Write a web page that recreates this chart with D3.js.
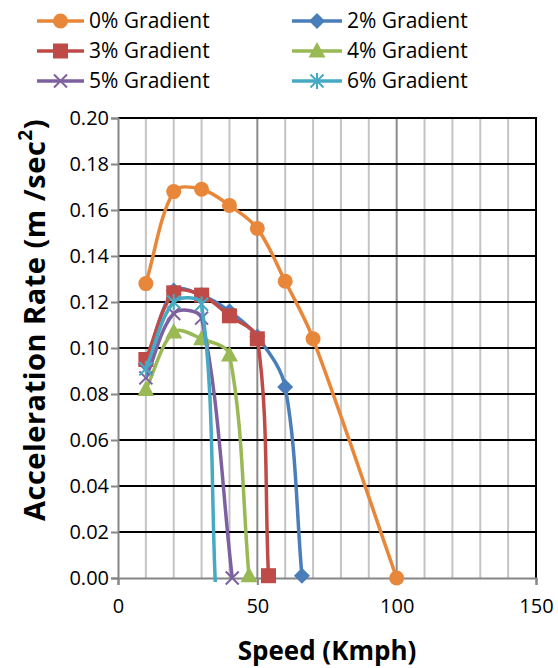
<!DOCTYPE html>
<html>
<head>
<meta charset="utf-8">
<script src="https://cdn.jsdelivr.net/npm/d3@7"></script>
<style>
  body { margin: 0; background: #fff; }
  svg { display: block; }
  text { font-family: "Open Sans", "DejaVu Sans", sans-serif; fill: #000; }
</style>
</head>
<body>
<svg id="chart" width="558" height="668"></svg>
<script>
// Acceleration rate vs. speed for each road gradient
const seriesNames = ["0% Gradient", "2% Gradient", "3% Gradient", "4% Gradient", "5% Gradient", "6% Gradient"];
const seriesColors = ["#E8873A", "#4A7EBB", "#BE4B48", "#98B954", "#7D60A0", "#46AAC5"];
const seriesMarkers = ["circle", "diamond", "square", "triangle", "cross", "asterisk"];

const speed0 = [10, 20, 30, 40, 50, 60, 70, 100];
const accel0 = [0.128, 0.168, 0.169, 0.162, 0.152, 0.129, 0.104, 0.000];
const speed2 = [10, 20, 30, 40, 50, 60, 66];
const accel2 = [0.093, 0.125, 0.123, 0.116, 0.105, 0.083, 0.001];
const speed3 = [10, 20, 30, 40, 50, 54];
const accel3 = [0.095, 0.124, 0.123, 0.114, 0.104, 0.001];
const speed4 = [10, 20, 30, 40, 47];
const accel4 = [0.082, 0.107, 0.104, 0.097, 0.001];
const speed5 = [10, 20, 30, 41];
const accel5 = [0.087, 0.115, 0.113, 0.000];
const speed6 = [10, 20, 30, 35];
const accel6 = [0.091, 0.120, 0.119, -0.004];

const xTicks = [0, 50, 100, 150];
const yTicks = [0, 0.02, 0.04, 0.06, 0.08, 0.10, 0.12, 0.14, 0.16, 0.18, 0.20];
const xGrid = [10, 20, 30, 40, 50, 60, 70, 80, 90, 100, 110, 120, 130, 140];

const speeds = [speed0, speed2, speed3, speed4, speed5, speed6];
const accels = [accel0, accel2, accel3, accel4, accel5, accel6];
const series = seriesNames.map((name, i) => ({
  name, color: seriesColors[i], marker: seriesMarkers[i],
  points: speeds[i].map((s, j) => ({ x: s, y: accels[i][j] }))
}));

const svg = d3.select("#chart");
const plot = { left: 118, right: 536, top: 118, bottom: 578 };

const x = d3.scaleLinear().domain([0, 150]).range([plot.left, plot.right]);
const y = d3.scaleLinear().domain([0, 0.20]).range([plot.bottom, plot.top]);

// vertical gridlines (minor light, major darker)
svg.append("g").selectAll("line").data(xGrid).join("line")
  .attr("x1", d => x(d)).attr("x2", d => x(d))
  .attr("y1", plot.top).attr("y2", plot.bottom)
  .attr("stroke", d => d % 50 === 0 ? "#8C8C8C" : "#C4C4C4")
  .attr("stroke-width", 2);

// horizontal gridlines
svg.append("g").selectAll("line").data(yTicks.filter(d => d > 0)).join("line")
  .attr("x1", plot.left).attr("x2", plot.right)
  .attr("y1", d => y(d)).attr("y2", d => y(d))
  .attr("stroke", "#000").attr("stroke-width", 2);

// right border
svg.append("line")
  .attr("x1", plot.right).attr("x2", plot.right)
  .attr("y1", plot.top - 1).attr("y2", plot.bottom)
  .attr("stroke", "#000").attr("stroke-width", 2);

// axes
const yAxis = svg.append("g").attr("transform", `translate(${plot.left},0)`)
  .call(d3.axisLeft(y).tickValues(yTicks).tickFormat(d3.format(".2f")).tickSize(7).tickPadding(2));
const xAxis = svg.append("g").attr("transform", `translate(0,${plot.bottom})`)
  .call(d3.axisBottom(x).tickValues(xTicks).tickFormat(d3.format("d")).tickSize(7).tickPadding(14));
[yAxis, xAxis].forEach(g => {
  g.select(".domain").attr("stroke", "#868686").attr("stroke-width", 2);
  g.selectAll(".tick line").attr("stroke", "#868686").attr("stroke-width", 2);
  g.selectAll(".tick text").style("font-family", '"Open Sans", sans-serif')
    .style("font-size", "20px").attr("fill", "#000");
});

// axis titles
svg.append("text")
  .attr("x", 327).attr("y", 660)
  .attr("text-anchor", "middle")
  .style("font-size", "26px").style("font-weight", "bold")
  .text("Speed (Kmph)");

const yTitle = svg.append("text")
  .attr("transform", `translate(45,320) rotate(-90)`)
  .attr("text-anchor", "middle")
  .style("font-size", "29px").style("font-weight", "bold")
  .style("letter-spacing", "0.5px");
yTitle.append("tspan").text("Acceleration Rate (m /sec");
yTitle.append("tspan").attr("baseline-shift", "super").style("font-size", "19px").text("2");
yTitle.append("tspan").text(")");

// marker shapes
function drawMarker(g, type, color, cx, cy) {
  if (type === "circle") {
    g.append("circle").attr("cx", cx).attr("cy", cy).attr("r", 7.5).attr("fill", color);
  } else if (type === "diamond") {
    g.append("path").attr("d", `M${cx},${cy - 8}L${cx + 8},${cy}L${cx},${cy + 8}L${cx - 8},${cy}Z`).attr("fill", color);
  } else if (type === "square") {
    g.append("rect").attr("x", cx - 7.5).attr("y", cy - 7.5).attr("width", 15).attr("height", 15).attr("fill", color);
  } else if (type === "triangle") {
    g.append("path").attr("d", `M${cx},${cy - 9}L${cx + 8.5},${cy + 6.5}L${cx - 8.5},${cy + 6.5}Z`).attr("fill", color);
  } else if (type === "cross") {
    g.append("path").attr("d", `M${cx - 6.5},${cy - 6.5}L${cx + 6.5},${cy + 6.5}M${cx + 6.5},${cy - 6.5}L${cx - 6.5},${cy + 6.5}`)
      .attr("stroke", color).attr("stroke-width", 2).attr("fill", "none");
  } else if (type === "asterisk") {
    g.append("path").attr("d", `M${cx - 6.5},${cy - 6.5}L${cx + 6.5},${cy + 6.5}M${cx + 6.5},${cy - 6.5}L${cx - 6.5},${cy + 6.5}M${cx},${cy - 8}L${cx},${cy + 8}`)
      .attr("stroke", color).attr("stroke-width", 2).attr("fill", "none");
  }
}

svg.append("defs").append("clipPath").attr("id", "plotClip")
  .append("rect").attr("x", plot.left).attr("y", plot.top - 10)
  .attr("width", plot.right - plot.left).attr("height", plot.bottom - plot.top + 14);

// smoothed line: cubic Bezier whose handles are scaled by neighbouring segment lengths
function smoothPath(pts) {
  const p = d3.path();
  const P = pts.map(d => [x(d.x), y(d.y)]);
  const dist = (a, b) => Math.hypot(b[0] - a[0], b[1] - a[1]);
  p.moveTo(P[0][0], P[0][1]);
  for (let i = 0; i < P.length - 1; i++) {
    const p0 = P[Math.max(i - 1, 0)], p1 = P[i], p2 = P[i + 1], p3 = P[Math.min(i + 2, P.length - 1)];
    const d01 = dist(p0, p1), d12 = dist(p1, p2), d23 = dist(p2, p3);
    const f1 = d12 / (d01 + d12) / 3, f2 = d12 / (d12 + d23) / 3;
    const c1 = [p1[0] + (p2[0] - p0[0]) * f1, p1[1] + (p2[1] - p0[1]) * f1];
    const c2 = [p2[0] - (p3[0] - p1[0]) * f2, p2[1] - (p3[1] - p1[1]) * f2];
    p.bezierCurveTo(c1[0], c1[1], c2[0], c2[1], p2[0], p2[1]);
  }
  return p.toString();
}

// series: smoothed line then markers
series.forEach(s => {
  const g = svg.append("g");
  g.append("path")
    .attr("d", smoothPath(s.points)).attr("fill", "none")
    .attr("stroke", s.color).attr("stroke-width", 3.5)
    .attr("clip-path", "url(#plotClip)");
  s.points.filter(p => p.y >= 0 && p.y <= 0.20)
    .forEach(p => drawMarker(g, s.marker, s.color, x(p.x), y(p.y)));
});

// legend
const legendCols = [{ x0: 37, x1: 84 }, { x0: 292, x1: 342 }];
const legendRows = [21, 51, 81];
series.forEach((s, i) => {
  const col = legendCols[i % 2], rowY = legendRows[Math.floor(i / 2)];
  const g = svg.append("g");
  g.append("line").attr("x1", col.x0).attr("x2", col.x1)
    .attr("y1", rowY).attr("y2", rowY)
    .attr("stroke", s.color).attr("stroke-width", 3.5);
  drawMarker(g, s.marker, s.color, (col.x0 + col.x1) / 2, rowY);
  g.append("text").attr("x", col.x1 + 5).attr("y", rowY)
    .attr("dy", "0.35em").style("font-size", "21px").text(s.name);
});
</script>
</body>
</html>
